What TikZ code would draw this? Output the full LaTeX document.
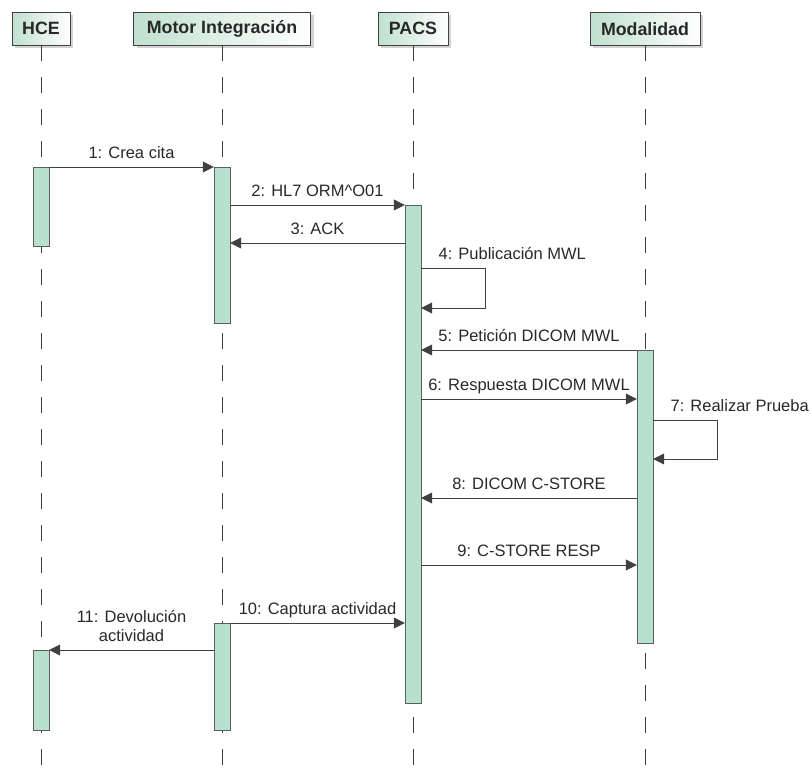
\documentclass[tikz,border=0pt]{standalone}
\usepackage{fontspec}
\setmainfont{Liberation Sans}
\definecolor{sqbar}{RGB}{184,224,206}
\definecolor{sqhead}{RGB}{192,224,207}
\definecolor{sqline}{RGB}{64,64,64}
\definecolor{sqtext}{RGB}{40,40,40}
\usetikzlibrary{arrows.meta,positioning,shadows}

\begin{document}
\begin{tikzpicture}[x=1pt, y=-1pt,
  headbox/.style={draw=sqline, left color=sqhead, right color=white, anchor=north,
    minimum height=33pt, inner sep=0pt, font=\fontsize{17.8}{20}\selectfont\bfseries,
    text=sqtext, drop shadow={opacity=0.35, shadow xshift=3pt, shadow yshift=-3pt}},
  lifeline/.style={sqline, line width=0.8pt, dash pattern=on 16pt off 16pt},
  actbar/.style={draw=sqline!85, fill=sqbar, anchor=north, minimum width=16pt, inner sep=0pt},
  msg/.style={-{Triangle[length=11pt,width=11pt]}, sqline, line width=0.8pt},
  lbl/.style={font=\fontsize{16.5}{19}\selectfont, text=sqtext, inner sep=2pt, text depth=0pt}]

\useasboundingbox (0,0) rectangle (812,781);

% Participants
\node[headbox, minimum width=58pt] (hce) at (41,12) {HCE};
\node[headbox, minimum width=177pt] (mot) at (222,12) {Motor Integración};
\node[headbox, minimum width=70pt] (pacs) at (413,12) {PACS};
\node[headbox, minimum width=110pt] (mod) at (645,12) {Modalidad};

% Lifelines
\coordinate (bottom) at (0,781);
\draw[lifeline] (hce.south) -- (hce.south |- bottom);
\draw[lifeline] (mot.south) -- (mot.south |- bottom);
\draw[lifeline] (pacs.south) -- (pacs.south |- bottom);
\draw[lifeline] (mod.south) -- (mod.south |- bottom);

% Activations
\node[actbar, minimum height=79pt] (hceA) at (41,167) {};
\node[actbar, minimum height=80pt] (hceB) at (41,650) {};
\node[actbar, minimum height=156pt] (motA) at (222,167) {};
\node[actbar, minimum height=107pt] (motB) at (222,623) {};
\node[actbar, minimum height=498pt] (pacsA) at (413,205) {};
\node[actbar, minimum height=293pt] (modA) at (645,350) {};

% Message levels
\coordinate (m3) at (0,243);
\coordinate (m4) at (485,268);
\coordinate (m4b) at (0,308);
\coordinate (m6) at (0,399);
\coordinate (m7) at (717,420);
\coordinate (m7b) at (0,459);
\coordinate (m8) at (0,498);
\coordinate (m9) at (0,565);

% Messages
\draw[msg] (hceA.north east) -- node[lbl, above=6pt] (l1) {1: Crea cita} (motA.north west);
\draw[msg] (motA.east |- pacsA.north) -- node[lbl, above=6pt] (l2) {2: HL7 ORM\textasciicircum O01} (pacsA.north west);
\draw[msg] (pacsA.west |- m3) -- node[lbl, above=6pt] (l3) {3: ACK} (motA.east |- m3);
\draw[msg] (pacsA.east |- m4) node[lbl, anchor=south west, xshift=15pt, yshift=6pt] (l4) {4: Publicación MWL}
  -- (m4) |- (pacsA.east |- m4b);
\draw[msg] (modA.north west) -- node[lbl, above=6pt] (l5) {5: Petición DICOM MWL} (pacsA.east |- modA.north);
\draw[msg] (pacsA.east |- m6) -- node[lbl, above=6pt] (l6) {6: Respuesta DICOM MWL} (modA.west |- m6);
\draw[msg] (modA.east |- m7) node[lbl, anchor=south west, xshift=15pt, yshift=6pt] (l7) {7: Realizar Prueba}
  -- (m7) |- (modA.east |- m7b);
\draw[msg] (modA.west |- m8) -- node[lbl, above=6pt] (l8) {8: DICOM C-STORE} (pacsA.east |- m8);
\draw[msg] (pacsA.east |- m9) -- node[lbl, above=6pt] (l9) {9: C-STORE RESP} (modA.west |- m9);
\draw[msg] (motB.north east) -- node[lbl, above=6pt] (l10) {10: Captura actividad} (pacsA.west |- motB.north);
\draw[msg] (motB.west |- hceB.north) -- node[lbl, above=6pt, align=center] (l11) {11: Devolución\\actividad} (hceB.north east);

\end{tikzpicture}
\end{document}
